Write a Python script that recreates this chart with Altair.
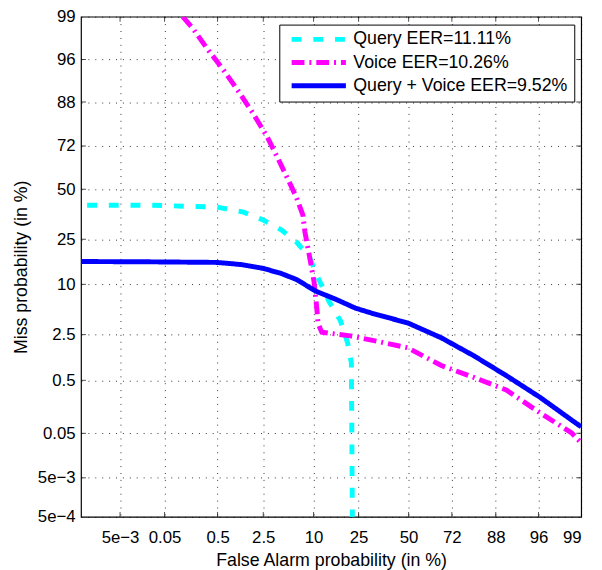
import altair as alt
import pandas as pd
from statistics import NormalDist

# ---- data (values in %) ----
series_names = ["Query EER=11.11%", "Voice EER=10.26%", "Query + Voice EER=9.52%"]

query_fa = [7.3e-4, 0.022, 0.49, 1.3, 2.5, 4.3, 6.5, 9.0, 11.3, 14.1, 17.9, 20.5, 22.0, 22.4]
query_miss = [41.5, 41.5, 40.5, 37.9, 33.9, 29.2, 23.9, 18.2, 11.2, 6.6, 3.8, 1.93, 0.97, 5e-4]

voice_fa = [0.116, 0.18, 0.33, 0.64, 1.11, 1.78, 2.77, 3.96, 5.4, 6.5, 7.7, 8.1, 9.0,
            10.1, 10.8, 11.1, 12.1, 21.6, 32.6, 49.5, 67, 81, 90.6, 96.2, 98.6, 99]
voice_miss = [99, 98.5, 97.1, 94.5, 90.5, 84.8, 76.5, 65.6, 53.7, 45.7, 36.4, 28.3, 18.9,
              10.7, 5.3, 3.5, 2.7, 2.4, 2.05, 1.63, 0.875, 0.56, 0.34, 0.128, 0.051, 0.0315]

both_fa = [5e-4, 0.022, 0.49, 1.2, 2.5, 4.3, 6.5, 10.6, 16.3, 23.6, 32.6, 49.5, 67, 81,
           90.6, 96.2, 98.6, 99]
both_miss = [16.5, 16.4, 16.2, 15.5, 14.3, 12.8, 11.2, 8.45, 6.9, 5.46, 4.6, 3.58, 2.26,
             1.24, 0.60, 0.25, 0.093, 0.068]

tick_pcts = [5e-4, 5e-3, 0.05, 0.5, 2.5, 10, 25, 50, 72, 88, 96, 99]
tick_labels = ["5e\u22124", "5e\u22123", "0.05", "0.5", "2.5", "10", "25", "50", "72", "88", "96", "99"]

colors = ["#00FFFF", "#FF00FF", "#0000FF"]
dashes = [[10, 12], [13, 5, 2, 5], [1, 0]]

# ---- build tables ----
rows = []
for name, fa, miss in zip(series_names, [query_fa, voice_fa, both_fa], [query_miss, voice_miss, both_miss]):
    for i, (a, b) in enumerate(zip(fa, miss)):
        rows.append({"series": name, "fa": a, "miss": b, "idx": i})
df = pd.DataFrame(rows)

nd = NormalDist()
tick_vals = [nd.inv_cdf(p / 100) for p in tick_pcts]
lo, hi = tick_vals[0], tick_vals[-1]
ticks_df = pd.DataFrame({"v": tick_vals[1:-1]})


def label_expr(vals, labels):
    expr = f"'{labels[-1]}'"
    for i in range(len(vals) - 2, -1, -1):
        mid = (vals[i] + vals[i + 1]) / 2
        expr = f"datum.value < {mid:.5f} ? '{labels[i]}' : ({expr})"
    return expr


lexpr = label_expr(tick_vals, tick_labels)
sc = alt.Scale(domain=[lo, hi], nice=False, zero=False)
x_axis = alt.Axis(values=tick_vals[1:], labelExpr=lexpr,
                  title="False Alarm probability (in %)", labelPadding=13, titlePadding=6)
y_axis = alt.Axis(values=tick_vals, labelExpr=lexpr,
                  title="Miss probability (in %)", labelPadding=6, titlePadding=7)

legend = alt.Legend(
    title=None, orient="none", legendX=201, legendY=8,
    symbolType="M-5,0H5", symbolSize=121, symbolStrokeWidth=5,
    labelFontSize=18, labelFont="Liberation Sans", labelColor="black",
    labelOffset=26, symbolOffset=25, padding=6, rowPadding=3.5,
    strokeColor="black", fillColor="white", labelLimit=400,
)

lines = alt.Chart(df).transform_calculate(
    px="quantileNormal(datum.fa / 100)",
    py="quantileNormal(datum.miss / 100)",
).mark_line(strokeWidth=5, clip=True).encode(
    x=alt.X("px:Q", scale=sc, axis=x_axis),
    y=alt.Y("py:Q", scale=sc, axis=y_axis),
    color=alt.Color("series:N", scale=alt.Scale(domain=series_names, range=colors), legend=legend),
    strokeDash=alt.StrokeDash("series:N", scale=alt.Scale(domain=series_names, range=dashes), legend=legend),
    order=alt.Order("idx:Q"),
)

tk = dict(size=10, thickness=1, color="black", clip=True)
xt_top = alt.Chart(ticks_df).mark_tick(orient="vertical", **tk).encode(
    x=alt.X("v:Q", scale=sc, axis=x_axis), y=alt.value(0))
xt_bot = alt.Chart(ticks_df).mark_tick(orient="vertical", **tk).encode(
    x=alt.X("v:Q", scale=sc, axis=x_axis), y=alt.value(507))
yt_left = alt.Chart(ticks_df).mark_tick(orient="horizontal", **tk).encode(
    y=alt.Y("v:Q", scale=sc, axis=y_axis), x=alt.value(0))
yt_right = alt.Chart(ticks_df).mark_tick(orient="horizontal", **tk).encode(
    y=alt.Y("v:Q", scale=sc, axis=y_axis), x=alt.value(507))

chart = alt.layer(lines, xt_top, xt_bot, yt_left, yt_right).properties(
    width=507, height=507,
    autosize=alt.AutoSizeParams(type="none"),
    padding={"left": 74, "top": 5, "right": 13, "bottom": 50},
).configure_view(
    stroke="black", strokeWidth=1.2
).configure_axis(
    grid=True, gridDash=[1, 6], gridColor="#000", gridOpacity=0.8, gridWidth=1,
    domain=False, ticks=False,
    labelFont="Liberation Sans", titleFont="Liberation Sans",
    labelFontSize=17, titleFontSize=18, titleFontWeight="normal",
    labelColor="black", titleColor="black",
)

chart.save("out.html", embed_options={"renderer": "svg", "actions": False})
